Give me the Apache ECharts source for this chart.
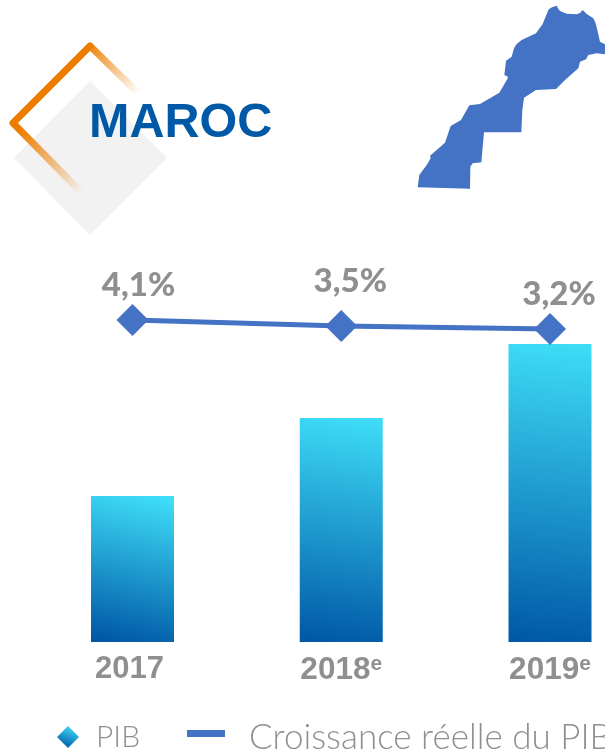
<!DOCTYPE html>
<html><head><meta charset="utf-8">
<style>html,body{margin:0;padding:0;background:#fff;overflow:hidden}#c{width:605px;height:753px}</style>
<script src="https://cdn.jsdelivr.net/npm/echarts@6/dist/echarts.min.js"></script>
</head><body><div id="c"></div>
<script>
const categories = ['2017', '2018', '2019'];
const estimated = [false, true, true];
const pib = [146, 224, 298];
const croissance = [4.1, 3.5, 3.2];
const croissanceLabels = ['4,1%', '3,5%', '3,2%'];
const titleText = 'MAROC';
const seriesNames = ['PIB', 'Croissance réelle du PIB'];

const labelOffsets = [[6, 3], [9, -7], [9, 3]];
const G = echarts.graphic;
const mapOutline = [[445,30],[450,25],[458,21],[470,17],[474,25],[480,33],[500,41],[530,43],[540,39],[548,30],[560,42],[580,55],[587,70],[592,90],[600,125],[615,133],[615,163],[590,160],[565,165],[558,178],[540,185],[535,205],[495,240],[468,267],[408,270],[372,293],[367,330],[364,397],[252,397],[244,487],[218,490],[211,500],[210,566],[53,562],[58,525],[80,495],[92,475],[90,467],[135,428],[152,378],[183,360],[208,316],[240,312],[298,278],[322,237],[324,230],[313,225],[318,182],[335,170],[342,145],[350,132],[365,120],[408,100],[428,72]]
  .map(p => [400 + p[0] / 3, p[1] / 3]);

const chart = echarts.init(document.getElementById('c'), null, {renderer: 'canvas'});
chart.setOption({
  animation: false,
  backgroundColor: '#fff',
  grid: {left: 132.5, right: 55, top: 200, bottom: 111, containLabel: false},
  xAxis: {
    type: 'category', data: categories, boundaryGap: false,
    axisLine: {show: false}, axisTick: {show: false},
    axisLabel: {
      margin: 12,
      interval: 0,
      formatter: (v, i) => estimated[i] ? '{y|' + v + '}{e|e}' : '{p|' + v + '}',
      rich: {
        y: {fontFamily: 'Liberation Sans', fontWeight: 'bold', fontSize: 31.5, color: '#8f8f8f'},
        p: {fontFamily: 'Liberation Sans', fontWeight: 'bold', fontSize: 31, color: '#8f8f8f', padding: [0, 6, 0, 0]},
        e: {fontFamily: 'Liberation Sans', fontWeight: 'bold', fontSize: 21, color: '#8f8f8f', verticalAlign: 'top', padding: [0, 0, 8, 0]}
      }
    }
  },
  yAxis: [
    {type: 'value', min: 0, max: 442, show: false},
    {type: 'value', min: -28.1, max: 16.1, show: false}
  ],
  legend: [
    {
      data: [{name: seriesNames[0], icon: 'diamond'}],
      left: 57, top: 722, itemWidth: 22, itemHeight: 22, itemGap: 6, padding: 0,
      textStyle: {fontFamily: 'Lato', fontWeight: 300, fontSize: 30, color: '#8f8f8f', padding: [0, 0, 0, 12]}
    },
    {
      data: [{name: seriesNames[1], icon: 'path://M0,0H38V7H0Z M0,15L0,15'}],
      left: 187, top: 720, itemWidth: 38, itemHeight: 15, padding: 0, width: 600,
      textStyle: {fontFamily: 'Lato', fontWeight: 300, fontSize: 35, color: '#8f8f8f', padding: [0, 0, 0, 19]}
    }
  ],
  series: [
    {
      name: seriesNames[0], type: 'bar', data: pib, barWidth: 83, yAxisIndex: 0, z: 2, clip: false,
      itemStyle: {color: new G.LinearGradient(0.3, 1, 0.7, 0, [{offset: 0, color: '#0059a6'}, {offset: 1, color: '#3edcf7'}])}
    },
    {
      name: seriesNames[1], type: 'line', yAxisIndex: 1, z: 5, clip: false,
      data: croissance.map((v, i) => ({
        value: v,
        label: {offset: labelOffsets[i], formatter: croissanceLabels[i]}
      })),
      symbol: 'diamond', symbolSize: 32,
      lineStyle: {color: '#4472c4', width: 5},
      itemStyle: {color: '#4472c4'},
      label: {show: true, position: 'top', distance: 5, fontFamily: 'Lato', fontWeight: 900, fontSize: 33, color: '#8f8f8f'}
    }
  ],
  graphic: [
    {type: 'polygon', z: -1, shape: {points: [[90, 81], [167, 158], [90, 235], [14, 158]]}, style: {fill: '#f2f2f2'}},
    {type: 'polyline', z: 0, shape: {points: [[137, 92], [90, 46], [13, 123], [81, 192]]},
      style: {fill: null, lineWidth: 7, lineJoin: 'round',
        stroke: new G.LinearGradient(90, 0, 90, 1, [{offset: 0, color: '#ed7d00'}, {offset: 1, color: '#ed7d00'}], true)}},
    {type: 'polyline', z: 1, shape: {points: [[92, 48], [138, 93]]},
      style: {fill: null, lineWidth: 8, stroke: new G.LinearGradient(92, 48, 138, 93, [{offset: 0, color: 'rgba(255,255,255,0.1)'}, {offset: 1, color: '#fff'}], true)}},
    {type: 'polyline', z: 1, shape: {points: [[20, 130], [82, 193]]},
      style: {fill: null, lineWidth: 8, stroke: new G.LinearGradient(20, 130, 82, 193, [{offset: 0, color: 'rgba(242,242,242,0)'}, {offset: 1, color: 'rgba(242,242,242,1)'}], true)}},
    {type: 'text', z: 3, style: {x: 89, y: 124, text: titleText, verticalAlign: 'middle', fontFamily: 'Liberation Sans', fontWeight: 'bold', fontSize: 48.5, fill: '#0059a6'}},
    {type: 'polygon', z: 0, shape: {points: mapOutline}, style: {fill: '#4472c4'}}
  ]
});
</script></body></html>
